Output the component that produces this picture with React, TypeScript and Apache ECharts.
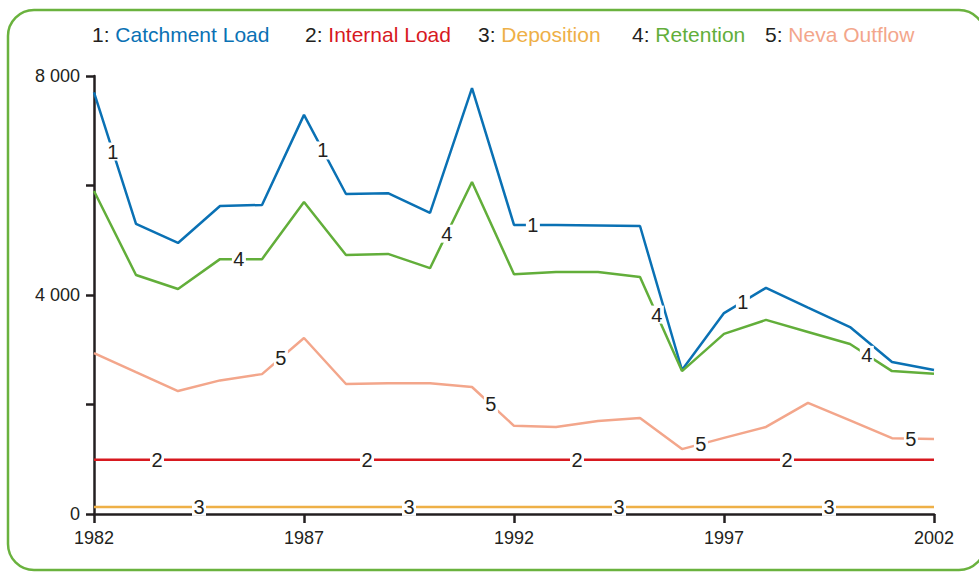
import React, { useEffect, useRef } from "react";
import * as echarts from "echarts";

const years = [1982, 1983, 1984, 1985, 1986, 1987, 1988, 1989, 1990, 1991, 1992, 1993, 1994, 1995, 1996, 1997, 1998, 1999, 2000, 2001, 2002];
const catchmentLoad = [7700, 5300, 4950, 5625, 5645, 7290, 5845, 5860, 5500, 7780, 5280, 5280, 5270, 5260, 2630, 3670, 4130, 3770, 3415, 2775, 2630];
const internalLoad = [990, 990, 990, 990, 990, 990, 990, 990, 990, 990, 990, 990, 990, 990, 990, 990, 990, 990, 990, 990, 990];
const deposition = [130, 130, 130, 130, 130, 130, 130, 130, 130, 130, 130, 130, 130, 130, 130, 130, 130, 130, 130, 130, 130];
const retention = [5900, 4365, 4110, 4655, 4655, 5700, 4730, 4750, 4490, 6065, 4380, 4420, 4420, 4330, 2610, 3290, 3545, 3325, 3105, 2610, 2560];
const nevaOutflow = [2940, 2590, 2245, 2440, 2555, 3215, 2375, 2390, 2390, 2320, 1610, 1590, 1700, 1755, 1185, 1390, 1590, 2030, 1710, 1385, 1370];

const seriesNames = ["Catchment Load", "Internal Load", "Deposition", "Retention", "Neva Outflow"];
const seriesColors = ["#0a71b4", "#d7191f", "#eeb047", "#62ae3a", "#f3a68b"];
const seriesValues = [catchmentLoad, internalLoad, deposition, retention, nevaOutflow];
// fractional years where the inline number labels sit
const labelYears = [
  [1982.45, 1987.45, 1992.45, 1997.45],
  [1983.5, 1988.5, 1993.5, 1998.5],
  [1984.5, 1989.5, 1994.5, 1999.5],
  [1985.45, 1990.4, 1995.4, 2000.4],
  [1986.45, 1991.45, 1996.45, 2001.45],
];
const legendLefts = [92, 305, 478, 632, 765];
const yTickLabels: Record<number, string> = { 0: "0", 4000: "4 000", 8000: "8 000" };

const DARK = "#231f20";
const FONT = "Liberation Sans, Arial, sans-serif";

function interp(vals: number[], x: number): number {
  const i = Math.min(Math.floor(x - years[0]), years.length - 2);
  const t = x - years[i];
  return vals[i] + (vals[i + 1] - vals[i]) * t;
}

export default function App() {
  const ref = useRef<HTMLDivElement>(null);
  useEffect(() => {
    document.body.style.margin = "0";
    document.body.style.overflow = "hidden";
    const chart = echarts.init(ref.current!, null, { renderer: "svg" });
    const series = seriesValues.map((vals, k) => ({
      name: seriesNames[k],
      type: "line",
      data: years.map((y, i) => [y, vals[i]]),
      symbol: "none",
      lineStyle: { color: seriesColors[k], width: 2.5 },
      itemStyle: { color: seriesColors[k] },
      z: k === 3 ? 3 : 2,
      markPoint: {
        symbol: "rect",
        symbolSize: [14, 18],
        itemStyle: { color: "#ffffff" },
        label: {
          show: true,
          position: "inside",
          formatter: String(k + 1),
          color: DARK,
          fontSize: 20,
          fontFamily: FONT,
        },
        data: labelYears[k].map((x) => ({ coord: [x, interp(vals, x)] })),
      },
    }));
    const legends = seriesNames.map((name, k) => ({
      data: [name],
      left: legendLefts[k] - 5,
      top: 24,
      icon: "none",
      itemWidth: 0,
      itemHeight: 0,
      padding: 0,
      selectedMode: false,
      formatter: (n: string) => `{n|${k + 1}: }{c|${n}}`,
      textStyle: {
        rich: {
          n: { color: DARK, fontSize: 21, fontFamily: FONT },
          c: { color: seriesColors[k], fontSize: 21, fontFamily: FONT },
        },
      },
    }));
    chart.setOption({
      animation: false,
      backgroundColor: "#ffffff",
      legend: legends,
      grid: { left: 94, right: 45, top: 76, bottom: 58, containLabel: false },
      xAxis: {
        type: "value",
        min: 1982,
        max: 2002,
        interval: 5,
        axisLine: { lineStyle: { color: DARK, width: 2.5 } },
        axisTick: { show: true, length: 9, lineStyle: { color: DARK, width: 2.5 } },
        axisLabel: { color: DARK, fontSize: 18, fontFamily: FONT, margin: 15, formatter: (v: number) => String(v) },
        splitLine: { show: false },
      },
      yAxis: {
        type: "value",
        min: 0,
        max: 8000,
        interval: 2000,
        axisLine: { show: true, lineStyle: { color: DARK, width: 2.5 } },
        axisTick: { show: true, length: 8, lineStyle: { color: DARK, width: 2.5 } },
        axisLabel: {
          color: DARK,
          fontSize: 18,
          fontFamily: FONT,
          margin: 14,
          formatter: (v: number) => yTickLabels[v] ?? "",
        },
        splitLine: { show: false },
      },
      graphic: [
        {
          type: "rect",
          x: 8,
          y: 10,
          shape: { x: 0, y: 0, width: 977, height: 560, r: 26 },
          style: { fill: "none", stroke: "#6ab23e", lineWidth: 2.5 },
          silent: true,
          z: -1,
        },
      ],
      series,
    });
    return () => chart.dispose();
  }, []);
  return <div ref={ref} style={{ width: 979, height: 572, overflow: "hidden" }} />;
}
